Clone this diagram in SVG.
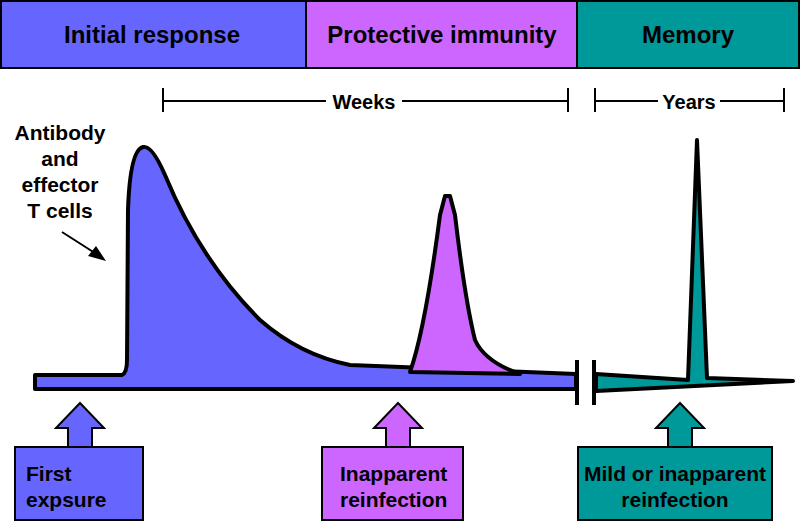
<svg xmlns="http://www.w3.org/2000/svg" width="800" height="531" viewBox="0 0 800 531">
<style>
text{font-family:"Liberation Sans",Arial,sans-serif;font-weight:bold;fill:#000}
.h{font-size:24px}.t{font-size:21px}.s{font-size:20px}
.k{stroke:#000;stroke-width:2}
.b{fill:#6666ff}.p{fill:#cc66ff}.g{fill:#009999}
</style>
<rect width="800" height="531" fill="#fff"/>
<g id="header">
<rect class="b k" x="1" y="1" width="305" height="67"/>
<rect class="p k" x="306" y="1" width="271" height="67"/>
<rect class="g k" x="577" y="1" width="222" height="67"/>
<text class="h" x="152" y="43" text-anchor="middle">Initial response</text>
<text class="h" x="442" y="43" text-anchor="middle">Protective immunity</text>
<text class="h" x="688" y="43" text-anchor="middle">Memory</text>
</g>
<g id="scales" stroke="#000" stroke-width="2" fill="none">
<path d="M163 88v24M568 88v24M163 101h163M402 101h166M595 88v24M784 88v24M595 101h63M720 101h64"/>
</g>
<text class="s" x="364" y="109" text-anchor="middle">Weeks</text>
<text class="s" x="689" y="109" text-anchor="middle">Years</text>
<g id="curves" stroke="#000" stroke-width="4" stroke-linejoin="round">
<path class="b" d="M35 375H122Q127 373 127 360L128 210Q130 150 143 147Q152 145 165 175Q200 260 260 320Q300 355 350 365L576 374V389H35Z"/>
<path class="p" d="M410 372Q425 330 440 215L445 196H450L455 215Q465 300 475 340Q485 362 520 374Z"/>
<path class="g" d="M596 374L688 380L697 140L707 378L793 381L596 391Z"/>
</g>
<g id="break" stroke="#000" stroke-width="4">
<path d="M577 360v45M594 360v45"/>
</g>
<g id="label-antibody">
<text class="t" x="60" y="140" text-anchor="middle">Antibody</text>
<text class="t" x="60" y="166" text-anchor="middle">and</text>
<text class="t" x="60" y="192" text-anchor="middle">effector</text>
<text class="t" x="60" y="218" text-anchor="middle">T cells</text>
<path d="M62 232L98 255" stroke="#000" stroke-width="2"/>
<path d="M106 261L88 256L96 246Z" fill="#000"/>
</g>
<g id="first">
<path class="b k" d="M80 403L104 428H92V447H68V428H56Z"/>
<rect class="b k" x="15" y="447" width="128" height="73"/>
<text class="t" x="26" y="481">First</text>
<text class="t" x="26" y="507">expsure</text>
</g>
<g id="inapparent">
<path class="p k" d="M398 403L422 428H410V447H386V428H374Z"/>
<rect class="p k" x="322" y="447" width="141" height="73"/>
<text class="t" x="340" y="481">Inapparent</text>
<text class="t" x="340" y="507">reinfection</text>
</g>
<g id="mild">
<path class="g k" d="M680 403L704 428H692V447H668V428H656Z"/>
<rect class="g k" x="578" y="447" width="194" height="73"/>
<text class="t" x="675" y="481" text-anchor="middle">Mild or inapparent</text>
<text class="t" x="675" y="507" text-anchor="middle">reinfection</text>
</g>
</svg>
